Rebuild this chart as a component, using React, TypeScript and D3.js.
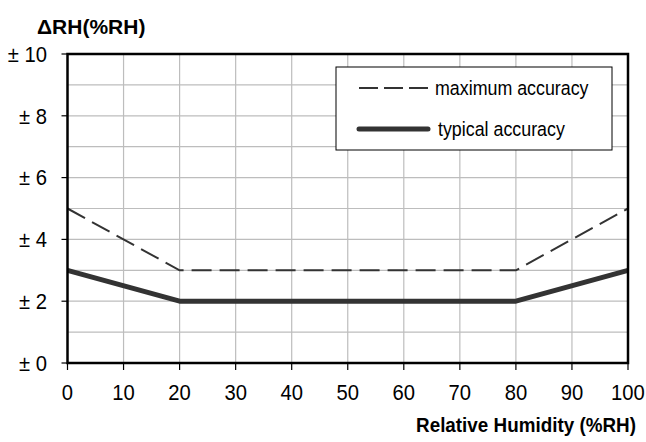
import * as d3 from "d3";

const xTicks = [0, 10, 20, 30, 40, 50, 60, 70, 80, 90, 100];
const yTicks = [0, 2, 4, 6, 8, 10];
const yMinor = [1, 3, 5, 7, 9];

const maxX = [0, 20, 80, 100];
const maxY = [5, 3, 3, 5];
const typX = [0, 20, 80, 100];
const typY = [3, 2, 2, 3];

const W = 646;
const H = 442;
const M = { left: 67.5, right: 628, top: 54, bottom: 363 };
const font = "Liberation Sans, Arial, sans-serif";

function T({ x, y, sx = 0.92, size = 22, anchor = "start", bold = false, children }: any) {
  return (
    <text
      transform={`translate(${x},${y}) scale(${sx},1)`}
      textAnchor={anchor}
      dy="0.35em"
      fontSize={size}
      fontWeight={bold ? "bold" : "normal"}
      fill="#000"
    >
      {children}
    </text>
  );
}

export default function App() {
  const x = d3.scaleLinear().domain([0, 100]).range([M.left, M.right]);
  const y = d3.scaleLinear().domain([0, 10]).range([M.bottom, M.top]);
  const line = d3
    .line<[number, number]>()
    .x((d) => x(d[0]))
    .y((d) => y(d[1]));
  const maxPts = maxX.map((v, i) => [v, maxY[i]] as [number, number]);
  const typPts = typX.map((v, i) => [v, typY[i]] as [number, number]);

  return (
    <svg
      width={W}
      height={H}
      style={{ position: "absolute", left: 0, top: 0, fontFamily: font }}
    >
      <rect width={W} height={H} fill="#fff" />
      {/* grid */}
      {xTicks.slice(1, -1).map((t) => (
        <line key={"gx" + t} x1={x(t)} x2={x(t)} y1={M.top} y2={M.bottom} stroke="#bdbdbd" strokeWidth={1.2} />
      ))}
      {[...yTicks, ...yMinor].filter((t) => t > 0 && t < 10).map((t) => (
        <line key={"gy" + t} x1={M.left} x2={M.right} y1={y(t)} y2={y(t)} stroke="#bdbdbd" strokeWidth={1.2} />
      ))}
      {/* series */}
      <path d={line(maxPts) ?? ""} fill="none" stroke="#333" strokeWidth={2} strokeDasharray="20,8" />
      <path d={line(typPts) ?? ""} fill="none" stroke="#333" strokeWidth={5} strokeLinejoin="round" />
      {/* frame */}
      <rect x={M.left} y={M.top} width={M.right - M.left} height={M.bottom - M.top} fill="none" stroke="#000" strokeWidth={2.5} />
      {/* y ticks */}
      {yTicks.map((t) => (
        <g key={"yt" + t}>
          <line x1={M.left - 6} x2={M.left} y1={y(t)} y2={y(t)} stroke="#000" strokeWidth={1.2} />
          <T x={47} y={y(t)} anchor="end">{"± " + t}</T>
        </g>
      ))}
      {/* x ticks */}
      {xTicks.map((t) => (
        <g key={"xt" + t}>
          <line x1={x(t)} x2={x(t)} y1={M.bottom} y2={M.bottom + 7} stroke="#000" strokeWidth={1.2} />
          <T x={x(t)} y={392} anchor="middle">{t}</T>
        </g>
      ))}
      <T x={37} y={27} size={21} sx={1} bold>ΔRH(%RH)</T>
      <T x={636} y={425} size={20.5} sx={0.92} anchor="end" bold>Relative Humidity (%RH)</T>
      {/* legend */}
      <rect x={336} y={67} width={276} height={83} fill="#fff" stroke="#000" strokeWidth={1} />
      <line x1={359} x2={428} y1={88} y2={88} stroke="#333" strokeWidth={2} strokeDasharray="19,6" />
      <T x={435} y={88} size={20.5} sx={0.87}>maximum accuracy</T>
      <line x1={359} x2={428} y1={129} y2={129} stroke="#333" strokeWidth={5} strokeLinecap="round" />
      <T x={438} y={129} size={20.5} sx={0.87}>typical accuracy</T>
    </svg>
  );
}
